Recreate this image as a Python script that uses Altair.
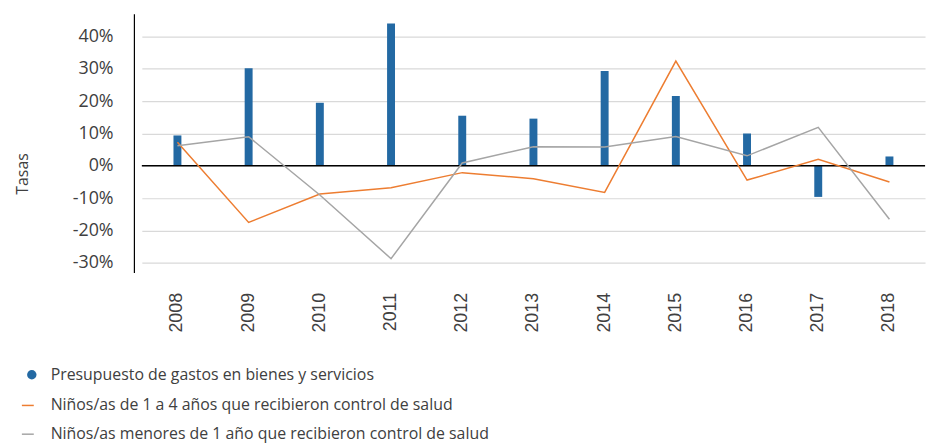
import altair as alt
import pandas as pd

years = ["2008", "2009", "2010", "2011", "2012", "2013", "2014", "2015", "2016", "2017", "2018"]
presupuesto = [0.094, 0.302, 0.195, 0.440, 0.155, 0.146, 0.293, 0.216, 0.100, -0.096, 0.029]
ninos_1_4 = [0.073, -0.175, -0.087, -0.068, -0.021, -0.040, -0.082, 0.324, -0.044, 0.020, -0.050]
ninos_menor_1 = [0.062, 0.090, -0.090, -0.287, 0.009, 0.059, 0.058, 0.091, 0.031, 0.119, -0.165]

s_bar = "Presupuesto de gastos en bienes y servicios"
s_l1 = "Niños/as de 1 a 4 años que recibieron control de salud"
s_l2 = "Niños/as menores de 1 año que recibieron control de salud"

y_ticks = [-0.3, -0.2, -0.1, 0.0, 0.1, 0.2, 0.3, 0.4]

bar_df = pd.DataFrame({"year": years, "value": presupuesto, "serie": s_bar})
line_df = pd.concat([
    pd.DataFrame({"year": years, "value": ninos_1_4, "serie": s_l1}),
    pd.DataFrame({"year": years, "value": ninos_menor_1, "serie": s_l2}),
])

FONT = "Open Sans"
TXT = "#404040"

x_scale = alt.Scale(paddingInner=0, paddingOuter=0)
x_axis = alt.Axis(title=None, labelAngle=-90, labelFont="Liberation Sans",
                  labelFontSize=18, labelColor=TXT, labelPadding=20,
                  domain=False, ticks=False, grid=False)
y_scale = alt.Scale(domain=[-0.33, 0.47], nice=False, zero=False)
y_axis = alt.Axis(title="Tasas", values=y_ticks, offset=8,
                  labelExpr="(datum.value < -0.0001 ? '-' : '') + format(abs(datum.value) * 100, '.0f') + '%'",
                  labelOverlap=False, labelSeparation=0,
                  labelFont=FONT, labelFontSize=18, labelColor=TXT,
                  labelPadding=21, ticks=False, domain=True,
                  domainColor="#000000", domainWidth=1.2,
                  grid=True, gridColor="#d9d9d9", gridWidth=1.2,
                  titleFont=FONT, titleFontSize=16, titleFontWeight="normal",
                  titleColor=TXT, titlePadding=42, titleY=161)

bars = alt.Chart(bar_df).mark_bar(size=8).encode(
    x=alt.X("year:N", sort=years, scale=x_scale, axis=x_axis),
    y=alt.Y("value:Q", scale=y_scale, axis=y_axis),
    color=alt.Color("serie:N", scale=alt.Scale(domain=[s_bar], range=["#2369a3"]),
                    legend=alt.Legend(title=None, orient="none", legendX=-119, legendY=356,
                                      symbolType="circle", symbolSize=90,
                                      labelFont=FONT, labelFontSize=16, labelColor=TXT,
                                      labelOffset=11, labelLimit=0, padding=0)),
)

zero = alt.Chart(pd.DataFrame({"z": [0.0]})).mark_rule(color="#000000", strokeWidth=1.5).encode(
    y=alt.Y("z:Q", scale=y_scale, axis=y_axis)
)

lines = alt.Chart(line_df).mark_line(strokeWidth=1.5).encode(
    x=alt.X("year:N", sort=years, scale=x_scale, axis=x_axis),
    y=alt.Y("value:Q", scale=y_scale, axis=y_axis),
    stroke=alt.Stroke("serie:N", scale=alt.Scale(domain=[s_l1, s_l2], range=["#ed7d31", "#a5a5a5"]),
                      legend=alt.Legend(title=None, orient="none", legendX=-123, legendY=387,
                                        symbolType="stroke", symbolSize=144, symbolStrokeWidth=1.5,
                                        labelFont=FONT, labelFontSize=16, labelColor=TXT,
                                        labelOffset=15, labelLimit=0, rowPadding=13, padding=0)),
)

chart = alt.layer(bars, zero, lines).resolve_scale(y="shared").properties(
    width=790, height=261,
    background="white",
    autosize=alt.AutoSizeParams(type="none"),
    padding={"left": 135, "top": 4, "right": 5, "bottom": 170},
).configure_view(strokeWidth=0, stroke=None).configure_axisY(labelOverlap=False)

chart.save("out.html", embed_options={"renderer": "svg", "actions": False})
